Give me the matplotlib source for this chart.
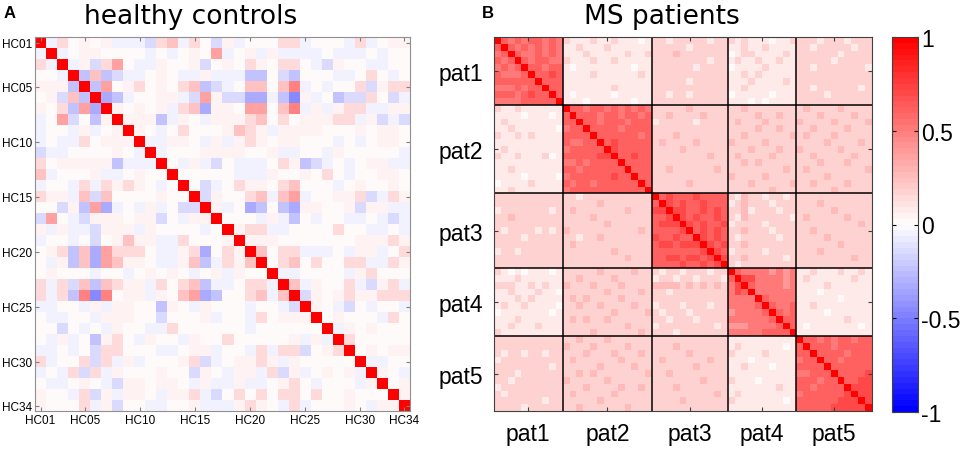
import numpy as np
import matplotlib
matplotlib.use("Agg")
import matplotlib.pyplot as plt

# --- healthy controls: upper triangle, row i starts at the diagonal (X) ---
hc_labels = ["HC01", "HC05", "HC10", "HC15", "HC20", "HC25", "HC30", "HC34"]
hc_ticks = [0, 4, 9, 14, 19, 24, 29, 33]
hc_rows = [
    "Xa20101aaab23a20b1a00022a000a2a011",
    "Xa0110000a0a0104a01a1aaaa0aaa0a00",
    "Xa1b240aa1001b010210220ab100aa00",
    "Xc3cbaa010aa1aaacc0bc000aa020a0",
    "Xc401201023cba033035a0a002b122",
    "Xdca0011ab41bbddace1a0cbb20ba",
    "X10101a23d11044035a1a122aa11",
    "X111ca10a1112302011122a1bab",
    "X10a020001321a111100010110",
    "Xaa110a1a121011000a0a0110",
    "Xa0001111001aa00a100000a",
    "X0a1ab0aaa021cba0a011aa",
    "X00000aaa1001020a00110",
    "X0ba0211023000a010010",
    "Xb10023a34a00112ba21",
    "X1a0dc0cd11001b11aa",
    "X000a1ac0a00aa0aba",
    "X122aa0000200aa0a",
    "X111000000011121",
    "X3022aaa0a11a02",
    "X023020022aa21",
    "Xaa0000a12000",
    "X3a1002ab12a",
    "Xb101211222",
    "X10ab0a00a",
    "X01000a20",
    "Xa101000",
    "X200000",
    "X01011",
    "Xaa00",
    "X10a",
    "X01",
    "X1",
    "X",
]
hc_lut = {"0": 0.0, "1": 0.06, "2": 0.13, "3": 0.22, "4": 0.36, "5": 0.48,
          "a": -0.06, "b": -0.13, "c": -0.22, "d": -0.33, "e": -0.45, "X": 1.0}

# --- MS patients: 5 patients, digit codes (see ms_lut) ---
pat_names = ["pat1", "pat2", "pat3", "pat4", "pat5"]
pat_sizes = [10, 13, 11, 10, 11]
ms_rows = [
    "X 656566565 2111211211101 22122222122 2121110112 22212221222",
    "X 65656565 1121112111111 22222122222 1121121111 22122222122",
    "X 6556565 1112111112112 22232222222 0122111121 22222212222",
    "X 656655 2111211211111 22222222122 1211211211 22222122222",
    "X 66566 1011111111011 22222212222 0111121111 22122222221",
    "X 6676 1111211111121 22222222222 1121211111 22222222222",
    "X 666 1111111111111 22222122222 1112111121 22222222222",
    "X 66 1111111211111 22222222222 1121111111 22122222212",
    "X 6 1011111011111 22122122222 0111110111 22221222222",
    "X 1110111111011 22222222222 1110101111 22222222222",
    "X 665665656565 22222322222 2232222222 23222232222",
    "X 66656656656 22322223222 2222322322 22232222322",
    "X 6656665666 12222212222 2322232222 32222322223",
    "X 666656666 22222222222 2222322322 22322223222",
    "X 66666656 22232222222 2232222223 23222322222",
    "X 6766666 23222232222 3222232222 22223222232",
    "X 766666 22223222222 2223222322 32222232222",
    "X 66766 22222222322 2322223222 22322222322",
    "X 6666 22222222222 2232322222 22232223222",
    "X 666 22322222232 2222222232 23222222223",
    "X 66 22222222222 3222232222 22223222222",
    "X 6 22222322222 2223222223 22322223222",
    "X 22222222222 2222223222 22222322222",
    "X 6766676666 2132212212 22222222222",
    "X 767667666 1232221222 22232222222",
    "X 77667676 2231222122 22222322222",
    "X 7676676 2132222221 23222223222",
    "X 767667 1222212222 22222222232",
    "X 67676 2232221222 22322222222",
    "X 7676 2122222122 22223222222",
    "X 767 2232222222 22222232222",
    "X 76 1222212222 22232222222",
    "X 7 2232222212 22222222322",
    "X 2122222222 22222222222",
    "X 655554545 11211121121",
    "X 77555545 12111111211",
    "X 6555545 11112111111",
    "X 555555 11101111111",
    "X 65555 11111101111",
    "X 6556 11211111111",
    "X 656 11110111111",
    "X 66 11111112111",
    "X 6 10111111101",
    "X 11111111111",
    "X 6656566566",
    "X 666566666",
    "X 66665666",
    "X 6656666",
    "X 666666",
    "X 66667",
    "X 6677",
    "X 777",
    "X 77",
    "X 7",
    "X",
]
ms_lut = {"0": 0.0, "1": 0.08, "2": 0.16, "3": 0.25, "4": 0.4, "5": 0.5,
          "6": 0.6, "7": 0.7, "X": 1.0}


def build(rows, lut):
    n = len(rows)
    m = np.zeros((n, n))
    for i, r in enumerate(rows):
        r = r.replace(" ", "")
        for k, ch in enumerate(r):
            m[i, i + k] = m[i + k, i] = lut[ch]
    return m


hc = build(hc_rows, hc_lut)
ms = build(ms_rows, ms_lut)

cmap = plt.get_cmap("bwr", 64)
tick_font = "Liberation Sans"

fig = plt.figure(figsize=(9.65, 4.56), dpi=100)

# left panel
ax1 = fig.add_axes([35 / 965, 1 - 412 / 456, 375 / 965, 374 / 456])
ax1.imshow(hc, cmap=cmap, vmin=-1, vmax=1, interpolation="nearest", aspect="auto")
ax1.set_xticks(hc_ticks)
ax1.set_yticks(hc_ticks)
ax1.set_xticklabels(hc_labels, fontsize=8.5, family=tick_font)
ax1.set_yticklabels(hc_labels, fontsize=8.5, family=tick_font)
ax1.tick_params(direction="in", length=3, color="#808080", top=True, right=True, pad=2)
for s in ax1.spines.values():
    s.set_color("#909090")

# right panel
ax2 = fig.add_axes([494 / 965, 1 - 412 / 456, 378 / 965, 374 / 456])
im = ax2.imshow(ms, cmap=cmap, vmin=-1, vmax=1, interpolation="nearest", aspect="auto")
edges = np.cumsum(pat_sizes)
centers = edges - np.array(pat_sizes) / 2 - 0.5
for e in edges[:-1]:
    ax2.axhline(e - 0.5, color="black", lw=1.1)
    ax2.axvline(e - 0.5, color="black", lw=1.1)
ax2.set_xticks(centers)
ax2.set_yticks(centers)
ax2.set_xticklabels(pat_names, fontsize=16.5, family=tick_font)
ax2.set_yticklabels(pat_names, fontsize=16.5, family=tick_font)
ax2.tick_params(direction="in", length=3, color="#404040", top=True, right=True, pad=8)
for s in ax2.spines.values():
    s.set_color("#404040")

# colorbar
cax = fig.add_axes([892 / 965, 1 - 413 / 456, 26 / 965, 375 / 456])
cb = fig.colorbar(im, cax=cax, ticks=[-1, -0.5, 0, 0.5, 1])
cb.ax.set_yticklabels(["-1", "-0.5", "0", "0.5", "1"], fontsize=16.5, family=tick_font)
cb.ax.tick_params(direction="in", length=3, left=True, right=True, pad=2)
cb.outline.set_edgecolor("#404040")

fig.text(191 / 965, 1 - 17 / 456, "healthy controls", fontsize=19, ha="center", va="center")
fig.text(662 / 965, 1 - 17 / 456, "MS patients", fontsize=19, ha="center", va="center")
fig.text(4 / 965, 1 - 13 / 456, "A", fontsize=12, weight="bold", family=tick_font, va="center")
fig.text(482 / 965, 1 - 13 / 456, "B", fontsize=12, weight="bold", family=tick_font, va="center")

fig.savefig("out.png", dpi=100)
